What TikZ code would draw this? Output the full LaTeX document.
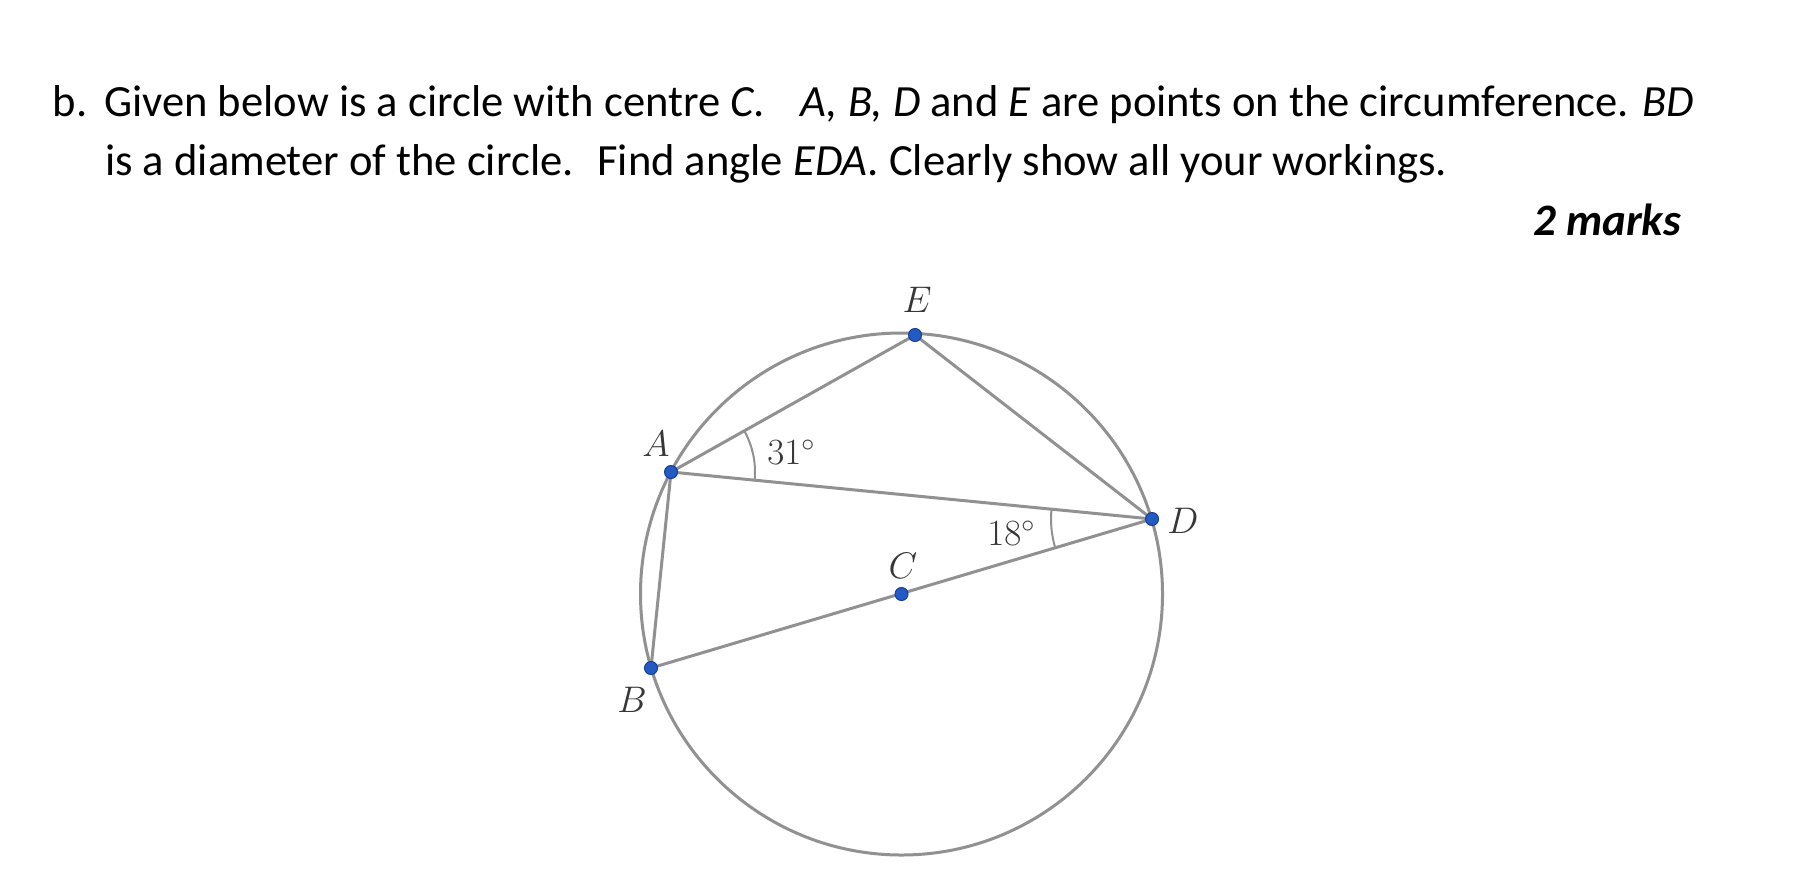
\documentclass[tikz,border=0pt]{standalone}
\usepackage{fix-cm}
\usepackage{fontspec}
\setmainfont{Carlito}
\newfontfamily\lmfont{Latin Modern Roman}
\usetikzlibrary{calc}
\definecolor{linegray}{RGB}{145,145,145}
\definecolor{dotblue}{RGB}{35,90,195}
\definecolor{dotedge}{RGB}{25,60,150}
\definecolor{labelgray}{RGB}{55,55,55}
\begin{document}
\begin{tikzpicture}[x=1pt,y=-1pt,
  qtext/.style={anchor=base west,inner sep=0pt,font=\fontsize{44.6}{52}\selectfont},
  geo/.style={draw=linegray,line width=3pt},
  anglearc/.style={draw=linegray,line width=2pt},
  ptdot/.style={fill=dotblue,draw=dotedge,line width=1pt},
  ptlabel/.style={inner sep=0pt,text=labelgray,font=\fontsize{37}{42}\selectfont\lmfont},
  anglelabel/.style={inner sep=0pt,text=labelgray,font=\fontsize{37}{42}\selectfont\lmfont}]
\useasboundingbox[fill=white] (0,0) rectangle (1819,876);
% question text
\node[qtext] (qb) at (52.7,116) {b.};
\node[qtext] (q1) at (104,116) {Given below is a circle with centre \textit{C}.\hspace{0.8em}\textit{A, B, D} and \textit{E} are points on the circumference. \textit{BD}};
\node[qtext] (q2) at (105,175) {is a diameter of the circle.\hspace{0.23em} Find angle \textit{EDA}. Clearly show all your workings.};
\node[anchor=base east,inner sep=0pt,font=\fontsize{45}{52}\selectfont\bfseries\itshape] (marks) at (1681,235) {2 marks};
% geometry
\coordinate (C) at (901.5,594);
\coordinate (A) at (671,472);
\coordinate (B) at (651,668);
\coordinate (D) at (1152,519);
\coordinate (E) at (915,335);
\draw[geo] (C) circle[radius=261pt];
\draw[geo] (B) -- (A) -- (E) -- (D) -- (A);
\draw[geo] (B) -- (D);
% angle arcs
\draw[anglearc] let \p1=($(D)-(A)$), \p2=($(E)-(A)$), \n1={atan2(\y1,\x1)}, \n2={atan2(\y2,\x2)} in
  ($(A)+(\n1:84pt)$) arc[start angle=\n1, end angle=\n2, radius=84pt];
\draw[anglearc] let \p1=($(A)-(D)$), \p2=($(B)-(D)$), \n1={atan2(\y1,\x1)}, \n2={atan2(\y2,\x2)+360} in
  ($(D)+(\n1:101pt)$) arc[start angle=\n1, end angle=\n2, radius=101pt];
% dots
\foreach \p in {A,B,C,D,E} \fill[ptdot] (\p) circle[radius=6.5pt];
% labels
\node[ptlabel] (lA) at (656,444) {$A$};
\node[ptlabel] (lB) at (632,700) {$B$};
\node[ptlabel] (lC) at (903,566) {$C$};
\node[ptlabel] (lD) at (1183,521) {$D$};
\node[ptlabel] (lE) at (917,300) {$E$};
\node[anglelabel] (a31) at (791,452) {$31^\circ$};
\node[anglelabel] (a18) at (1011,533) {$18^\circ$};
\end{tikzpicture}
\end{document}
